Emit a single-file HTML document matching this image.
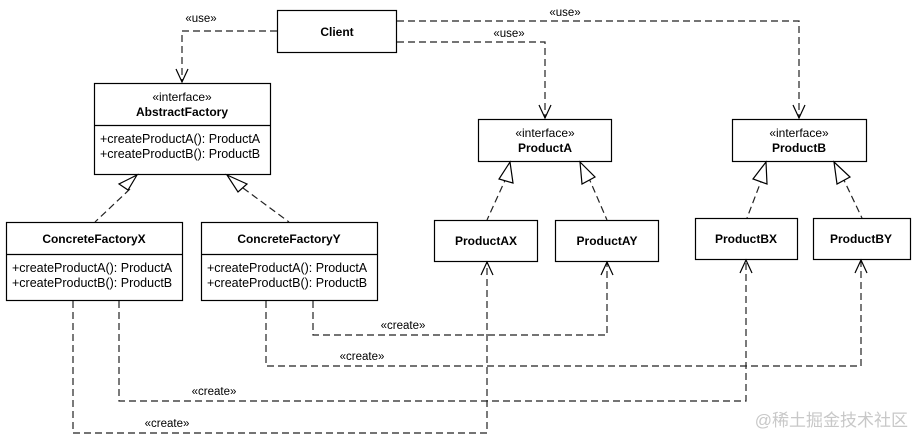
<!DOCTYPE html>
<html><head><meta charset="utf-8"><style>
html,body{margin:0;padding:0;background:#fff;}
svg{display:block;}
text{font-family:"Liberation Sans",Arial,sans-serif;fill:#000;}
.b{font-weight:bold;font-size:12px;}
.n{font-size:12px;}
.m{font-size:12.5px;}
.s{font-size:11.5px;}
</style></head><body>
<svg width="912" height="440" viewBox="0 0 912 440" xmlns="http://www.w3.org/2000/svg">
<g fill="#fff" stroke="#000" stroke-width="1.2">
<rect x="277.5" y="10.5" width="119" height="42"/>
<rect x="94.5" y="83.5" width="176" height="91"/>
<line x1="94.5" y1="125.5" x2="270.5" y2="125.5"/>
<rect x="478.5" y="119.5" width="133" height="42"/>
<rect x="732.5" y="119.5" width="134" height="42"/>
<rect x="6.5" y="222.5" width="176" height="78"/>
<line x1="6.5" y1="254.5" x2="182.5" y2="254.5"/>
<rect x="201.5" y="222.5" width="176" height="78"/>
<line x1="201.5" y1="254.5" x2="377.5" y2="254.5"/>
<rect x="434.5" y="220.5" width="103" height="41"/>
<rect x="555.5" y="220.5" width="103" height="41"/>
<rect x="695.5" y="218.5" width="102" height="41"/>
<rect x="813.5" y="218.5" width="97" height="41"/>
</g>
<g fill="none" stroke="#222" stroke-width="1.2" stroke-dasharray="7,4">
<polyline points="277,31 182,31 182,82"/>
<polyline points="397,42 545,42 545,118"/>
<polyline points="397,21 799,21 799,118"/>
<line x1="130" y1="189" x2="95" y2="222"/>
<line x1="243" y1="188" x2="289" y2="222"/>
<line x1="507" y1="176" x2="487" y2="220"/>
<line x1="588" y1="176" x2="607" y2="220"/>
<line x1="763" y1="176" x2="747" y2="218"/>
<line x1="842" y1="176" x2="862" y2="218"/>
<polyline points="73,301 73,433 487,433 487,262"/>
<polyline points="119,301 119,401 746,401 746,260"/>
<polyline points="266,301 266,366 861,366 861,260"/>
<polyline points="313,301 313,335 607,335 607,262"/>
</g>
<g fill="none" stroke="#000" stroke-width="1.2">
<polyline points="176,69 182,82 188,69"/>
<polyline points="539,105 545,118 551,105"/>
<polyline points="793,105 799,118 805,105"/>
<polyline points="481,275 487,262 493,275"/>
<polyline points="601,275 607,262 613,275"/>
<polyline points="740,273 746,260 752,273"/>
<polyline points="855,273 861,260 867,273"/>
</g>
<g fill="#fff" stroke="#000" stroke-width="1.2">
<polygon points="137,175 128,190 119,184"/>
<polygon points="227,175 247,184 238,192"/>
<polygon points="510,162 513,183 499,179"/>
<polygon points="580,162 595,177 582,184"/>
<polygon points="766,162 767,184 753,179"/>
<polygon points="834,162 850,177 837,184"/>
</g>
<text class="s" x="201" y="22" text-anchor="middle">«use»</text>
<text class="s" x="509" y="37" text-anchor="middle">«use»</text>
<text class="s" x="565" y="16" text-anchor="middle">«use»</text>
<text class="b" x="337" y="36" text-anchor="middle">Client</text>
<text class="n" x="182" y="101" text-anchor="middle">«interface»</text>
<text class="b" x="182" y="116" text-anchor="middle">AbstractFactory</text>
<text class="m" x="100" y="143">+createProductA(): ProductA</text>
<text class="m" x="100" y="158">+createProductB(): ProductB</text>
<text class="n" x="545" y="137" text-anchor="middle">«interface»</text>
<text class="b" x="545" y="152" text-anchor="middle">ProductA</text>
<text class="n" x="799" y="137" text-anchor="middle">«interface»</text>
<text class="b" x="799" y="152" text-anchor="middle">ProductB</text>
<text class="b" x="94" y="243" text-anchor="middle">ConcreteFactoryX</text>
<text class="m" x="12" y="272">+createProductA(): ProductA</text>
<text class="m" x="12" y="287">+createProductB(): ProductB</text>
<text class="b" x="289" y="243" text-anchor="middle">ConcreteFactoryY</text>
<text class="m" x="207" y="272">+createProductA(): ProductA</text>
<text class="m" x="207" y="287">+createProductB(): ProductB</text>
<text class="b" x="486" y="245" text-anchor="middle">ProductAX</text>
<text class="b" x="607" y="245" text-anchor="middle">ProductAY</text>
<text class="b" x="746" y="243" text-anchor="middle">ProductBX</text>
<text class="b" x="861" y="243" text-anchor="middle">ProductBY</text>
<text class="s" x="403" y="329" text-anchor="middle">«create»</text>
<text class="s" x="362" y="360" text-anchor="middle">«create»</text>
<text class="s" x="214" y="395" text-anchor="middle">«create»</text>
<text class="s" x="167" y="427" text-anchor="middle">«create»</text>
<text x="908" y="426" text-anchor="end" style="font-size:17px;fill:#c8c8c8;font-family:'Liberation Sans','Noto Sans CJK SC',sans-serif;">@稀土掘金技术社区</text>
</svg>
</body></html>
